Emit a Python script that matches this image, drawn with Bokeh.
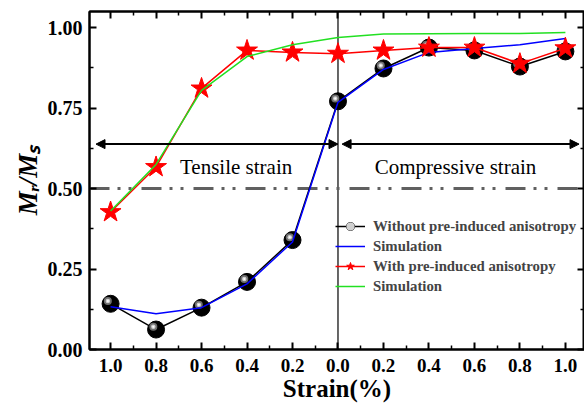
from bokeh.plotting import figure
from bokeh.models import (FixedTicker, LinearAxis, Span, Arrow, NormalHead, Label,
                          Legend, LegendItem, ColumnDataSource, Range1d)
from bokeh.transform import dodge
from bokeh.embed import file_html
from bokeh.resources import INLINE

# ---------------- data ----------------
strain = [-1.0, -0.8, -0.6, -0.4, -0.2, 0.0, 0.2, 0.4, 0.6, 0.8, 1.0]
without_exp = [0.142, 0.062, 0.130, 0.210, 0.340, 0.771, 0.873, 0.938, 0.929, 0.879, 0.926]
without_sim = [0.133, 0.111, 0.130, 0.204, 0.334, 0.768, 0.870, 0.923, 0.935, 0.947, 0.966]
with_exp = [0.427, 0.567, 0.811, 0.929, 0.923, 0.919, 0.929, 0.938, 0.938, 0.888, 0.936]
with_sim = [0.430, 0.575, 0.805, 0.910, 0.947, 0.969, 0.980, 0.981, 0.982, 0.982, 0.985]

x_ticks = [-1.0, -0.8, -0.6, -0.4, -0.2, 0.0, 0.2, 0.4, 0.6, 0.8, 1.0]
x_tick_labels = ["1.0", "0.8", "0.6", "0.4", "0.2", "0.0", "0.2", "0.4", "0.6", "0.8", "1.0"]
x_minor = [-0.9, -0.7, -0.5, -0.3, -0.1, 0.1, 0.3, 0.5, 0.7, 0.9]
y_ticks = [0.0, 0.25, 0.5, 0.75, 1.0]
y_tick_labels = ["0.00", "0.25", "0.50", "0.75", "1.00"]
y_minor = [0.125, 0.375, 0.625, 0.875]

x_title = "Strain(%)"
y_title = "M\u1d63/M\u209b"
legend_labels = ["Without pre-induced anisotropy", "Simulation",
                 "With pre-induced anisotropy", "Simulation"]
region_texts = ["Tensile strain", "Compressive strain"]
region_text_x = [-0.448, 0.517]
region_text_y = 0.567
arrow_y = 0.638
arrow_spans = [(-1.064, 0.0), (0.018, 1.06)]
threshold = 0.5

FONT = "Liberation Serif"

p = figure(width=584, height=406,
           x_range=Range1d(-1.0927, 1.0840), y_range=Range1d(0, 1.05),
           output_backend="svg", toolbar_location=None,
           min_border_left=89, min_border_right=0, min_border_top=11, min_border_bottom=57)
p.grid.visible = False
p.outline_line_color = "black"
p.outline_line_width = 2
p.background_fill_color = "white"
p.border_fill_color = "white"

xticker = FixedTicker(ticks=x_ticks, minor_ticks=x_minor)
yticker = FixedTicker(ticks=y_ticks, minor_ticks=y_minor)


def style(ax, show_labels):
    ax.axis_line_width = 2
    ax.axis_line_color = "black"
    ax.major_tick_in = 7
    ax.major_tick_out = 0
    ax.minor_tick_in = 4
    ax.minor_tick_out = 0
    ax.major_tick_line_width = 2
    ax.minor_tick_line_width = 1.5
    ax.major_tick_line_color = "black"
    ax.minor_tick_line_color = "black"
    if show_labels:
        ax.major_label_text_font = FONT
        ax.major_label_text_font_style = "bold"
        ax.major_label_text_font_size = "20px"
        ax.major_label_text_color = "black"
        ax.axis_label_text_font = FONT
        ax.axis_label_text_font_style = "bold"
        ax.axis_label_text_color = "black"
    else:
        ax.major_label_text_font_size = "1px"
        ax.major_label_text_alpha = 0
        ax.major_label_standoff = 0


xa = p.xaxis[0]
xa.ticker = xticker
xa.major_label_overrides = {t: l for t, l in zip(x_ticks, x_tick_labels)}
style(xa, True)
xa.major_label_text_font_size = "19px"
xa.major_label_standoff = 9
xa.axis_label = x_title
xa.axis_label_text_font_size = "25px"
xa.axis_label_standoff = 0

ya = p.yaxis[0]
ya.ticker = yticker
ya.major_label_overrides = {t: l for t, l in zip(y_ticks, y_tick_labels)}
style(ya, True)
ya.major_label_standoff = 7
ya.axis_label = y_title
ya.axis_label_text_font_size = "27px"
ya.axis_label_text_font_style = "bold italic"
ya.axis_label_standoff = 2

top = LinearAxis(ticker=xticker)
style(top, False)
p.add_layout(top, "above")
right = LinearAxis(ticker=yticker)
style(right, False)
p.add_layout(right, "right")

# reference lines
p.add_layout(Span(location=0, dimension="height", line_color="black", line_width=1.2, level="underlay"))
p.add_layout(Span(location=threshold, dimension="width", line_color="#606060", line_width=3,
                  line_dash="20 8 3 8 3 10", level="underlay"))

src = ColumnDataSource(dict(x=strain, wo=without_exp, wos=without_sim, wi=with_exp, wis=with_sim))

r_bl = p.line("x", "wo", source=src, line_color="black", line_width=1.5)
r_bs = p.scatter("x", "wo", source=src, size=17, marker="circle", fill_color="black", line_color="black")
r_h1 = p.scatter(x=dodge("x", -0.012), y=dodge("wo", 0.009), source=src, size=8, marker="circle",
                 fill_color="#707070", line_color=None)
r_h2 = p.scatter(x=dodge("x", -0.012), y=dodge("wo", 0.009), source=src, size=4.5, marker="circle",
                 fill_color="#d0d0d0", line_color=None)
r_h3 = p.scatter(x=dodge("x", -0.012), y=dodge("wo", 0.009), source=src, size=2, marker="circle",
                 fill_color="white", line_color=None)
r_blue = p.line("x", "wos", source=src, line_color="#0000ff", line_width=1.5)
r_rl = p.line("x", "wi", source=src, line_color="#ff0000", line_width=1.5)
r_rs = p.scatter("x", "wi", source=src, size=22, marker="star", fill_color="#ff0000", line_color="#ff0000")
r_green = p.line("x", "wis", source=src, line_color="#22e022", line_width=1.5)

# arrows
for xs, xe in arrow_spans:
    p.add_layout(Arrow(x_start=xs, y_start=arrow_y, x_end=xe, y_end=arrow_y, line_width=2,
                       line_color="black",
                       start=NormalHead(size=9, fill_color="black", line_color="black", line_width=1),
                       end=NormalHead(size=9, fill_color="black", line_color="black", line_width=1)))

for t, x in zip(region_texts, region_text_x):
    p.add_layout(Label(x=x, y=region_text_y, text=t, text_font=FONT, text_font_size="21px",
                       text_align="center", text_baseline="alphabetic", text_color="black"))

legend = Legend(items=[
    LegendItem(label=legend_labels[0], renderers=[r_bl, r_bs, r_h1, r_h2]),
    LegendItem(label=legend_labels[1], renderers=[r_blue]),
    LegendItem(label=legend_labels[2], renderers=[r_rl, r_rs]),
    LegendItem(label=legend_labels[3], renderers=[r_green]),
], location=(246, 53), padding=0, margin=0, spacing=0, glyph_width=30, glyph_height=20,
    label_height=19, label_standoff=8, border_line_alpha=0, background_fill_alpha=0,
    label_text_font=FONT, label_text_font_style="bold", label_text_font_size="14.8px",
    label_text_baseline="middle")
p.add_layout(legend)

open("out.html", "w").write(file_html(p, INLINE))
